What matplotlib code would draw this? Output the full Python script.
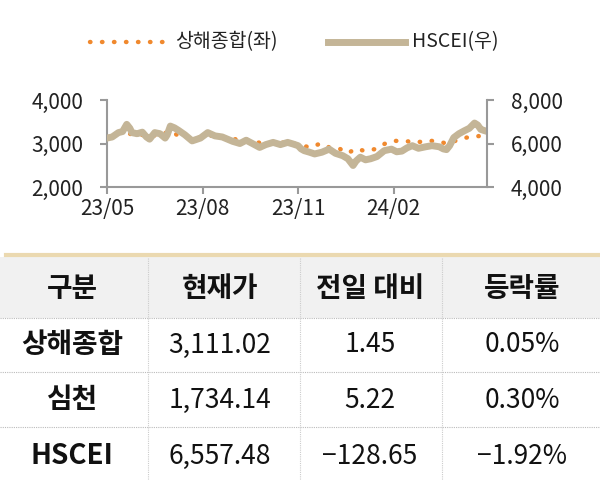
import matplotlib
matplotlib.use("Agg")
import matplotlib.pyplot as plt
import numpy as np
import pandas as pd

plt.rcParams['font.family'] = ['Noto Sans CJK KR', 'DejaVu Sans']

start = pd.Timestamp('2023-05-01')
hs_days = [0,5,11,15,19,22,24,29,34,38,41,46,51,56,58,61,65,69,75,82,90,97,104,111,116,121,128,134,140,147,153,160,167,174,179,184,187,190,195,200,207,214,220,227,232,237,240,244,249,254,260,267,274,279,284,289,294,300,307,313,320,324,327,330,334,339,344,349,354,357,360,363,366]
hs_vals = [6250,6300,6500,6550,6880,6700,6500,6450,6520,6300,6200,6500,6450,6250,6400,6800,6720,6600,6400,6120,6250,6500,6350,6300,6200,6100,6000,6150,6000,5820,5950,6050,5950,6050,5980,5900,5750,5670,5600,5520,5600,5740,5550,5440,5300,4990,5200,5370,5250,5300,5400,5670,5740,5620,5650,5800,5900,5780,5850,5900,5850,5750,5720,5900,6270,6450,6580,6700,6940,6850,6650,6600,6557]
sh_days = [0,11,30,50,61,69,82,100,121,134,150,170,184,195,206,216,224,232,240,248,258,268,276,287,297,307,317,327,346,358,366]
sh_vals = [3150,3250,3200,3180,3290,3175,3120,3180,3100,3090,3000,3020,2985,2910,3000,2890,2880,2780,2880,2830,2870,3000,3060,3060,3020,3060,3060,3000,3135,3170,3110]

legend_sh = '상해종합(좌)'
legend_hs = 'HSCEI(우)'
x_ticks = ['2023-05-01', '2023-08-01', '2023-11-01', '2024-02-01']
x_labels = ['23/05', '23/08', '23/11', '24/02']

col_headers = ['구분', '현재가', '전일 대비', '등락률']
row_names = ['상해종합', '심천', 'HSCEI']
prices = ['3,111.02', '1,734.14', '6,557.48']
changes = ['1.45', '5.22', '−128.65']
rates = ['0.05%', '0.30%', '−1.92%']

fig = plt.figure(figsize=(6, 4.8), dpi=100)
ax = fig.add_axes([107/600, 1-187/480, 380/600, 87/480])
ax2 = ax.twinx()

sh_x = [start + pd.Timedelta(days=d) for d in sh_days]
hs_x = [start + pd.Timedelta(days=d) for d in hs_days]
ax.plot(sh_x, sh_vals, color='#F0892E', linestyle=(0, (0.1, 2.6)), linewidth=3.2,
        dash_capstyle='round')
ax2.plot(hs_x, hs_vals, color='#C4B597', linewidth=5, solid_joinstyle='round')
ax.set_zorder(ax2.get_zorder()-1)
ax2.patch.set_visible(False)
ax.patch.set_facecolor('white')

ax.set_ylim(2000, 4000)
ax2.set_ylim(4000, 8000)
ax.set_yticks([2000, 3000, 4000])
ax2.set_yticks([4000, 6000, 8000])
ax.set_yticklabels(['2,000', '3,000', '4,000'])
ax2.set_yticklabels(['4,000', '6,000', '8,000'])
ax.set_xlim(start, pd.Timestamp('2024-05-01'))
ax.set_xticks([pd.Timestamp(t) for t in x_ticks])
ax.set_xticklabels(x_labels)
for a in (ax, ax2):
    for s in a.spines.values():
        s.set_color('#999999')
        s.set_linewidth(1.5)
    a.spines['top'].set_visible(False)
    a.tick_params(colors='#999999', labelcolor='#222222', labelsize=15, width=1.5,
                  length=5, direction='out')
ax.spines['right'].set_visible(False)
ax2.spines['left'].set_visible(False)
ax2.spines['bottom'].set_visible(False)
ax.tick_params(axis='y', pad=12)
ax2.tick_params(axis='y', pad=12)
ax.tick_params(axis='x', pad=3)

# legend
fig.lines.append(plt.Line2D([90/600, 163/600], [1-42/480]*2, color='#F0892E',
                            linestyle=(0, (0.1, 2.6)), linewidth=3.2, dash_capstyle='round',
                            transform=fig.transFigure))
fig.text(175/600, 1-42/480, legend_sh, fontsize=14, va='center', color='#222222')
fig.lines.append(plt.Line2D([328/600, 405/600], [1-42/480]*2, color='#C4B597',
                            linewidth=5, transform=fig.transFigure))
fig.text(412/600, 1-42/480, legend_hs, fontsize=14, va='center', color='#222222')

# table
def fy(p):
    return 1 - p/480
fig.patches.append(plt.Rectangle((0, fy(318)), 1, fy(257)-fy(318), transform=fig.transFigure,
                                 facecolor='#F1F1F1', edgecolor='none'))
fig.lines.append(plt.Line2D([0.01, 1], [fy(255)]*2, color='#EBD9B0', linewidth=3,
                            transform=fig.transFigure))
for yy in [318, 372, 427]:
    fig.lines.append(plt.Line2D([0, 1], [fy(yy)]*2, color='#BBBBBB', linewidth=0.8,
                                linestyle=(0, (1, 1)), transform=fig.transFigure))
for xx in [148, 300, 442]:
    fig.lines.append(plt.Line2D([xx/600]*2, [fy(258), fy(480)], color='#CCCCCC', linewidth=0.8,
                                linestyle=(0, (1, 1)), transform=fig.transFigure))
cx = [72/600, 220/600, 370/600, 522/600]
for i, h in enumerate(col_headers):
    fig.text(cx[i], fy(289), h, fontsize=20, fontweight='bold', ha='center', va='center', color='#111111')
ry = [345, 400, 456]
for r in range(3):
    fig.text(cx[0], fy(ry[r]), row_names[r], fontsize=20, fontweight='bold', ha='center', va='center', color='#111111')
    fig.text(cx[1], fy(ry[r]), prices[r], fontsize=19, ha='center', va='center', color='#111111')
    fig.text(cx[2], fy(ry[r]), changes[r], fontsize=19, ha='center', va='center', color='#111111')
    fig.text(cx[3], fy(ry[r]), rates[r], fontsize=19, ha='center', va='center', color='#111111')

fig.savefig('out.png', dpi=100)
